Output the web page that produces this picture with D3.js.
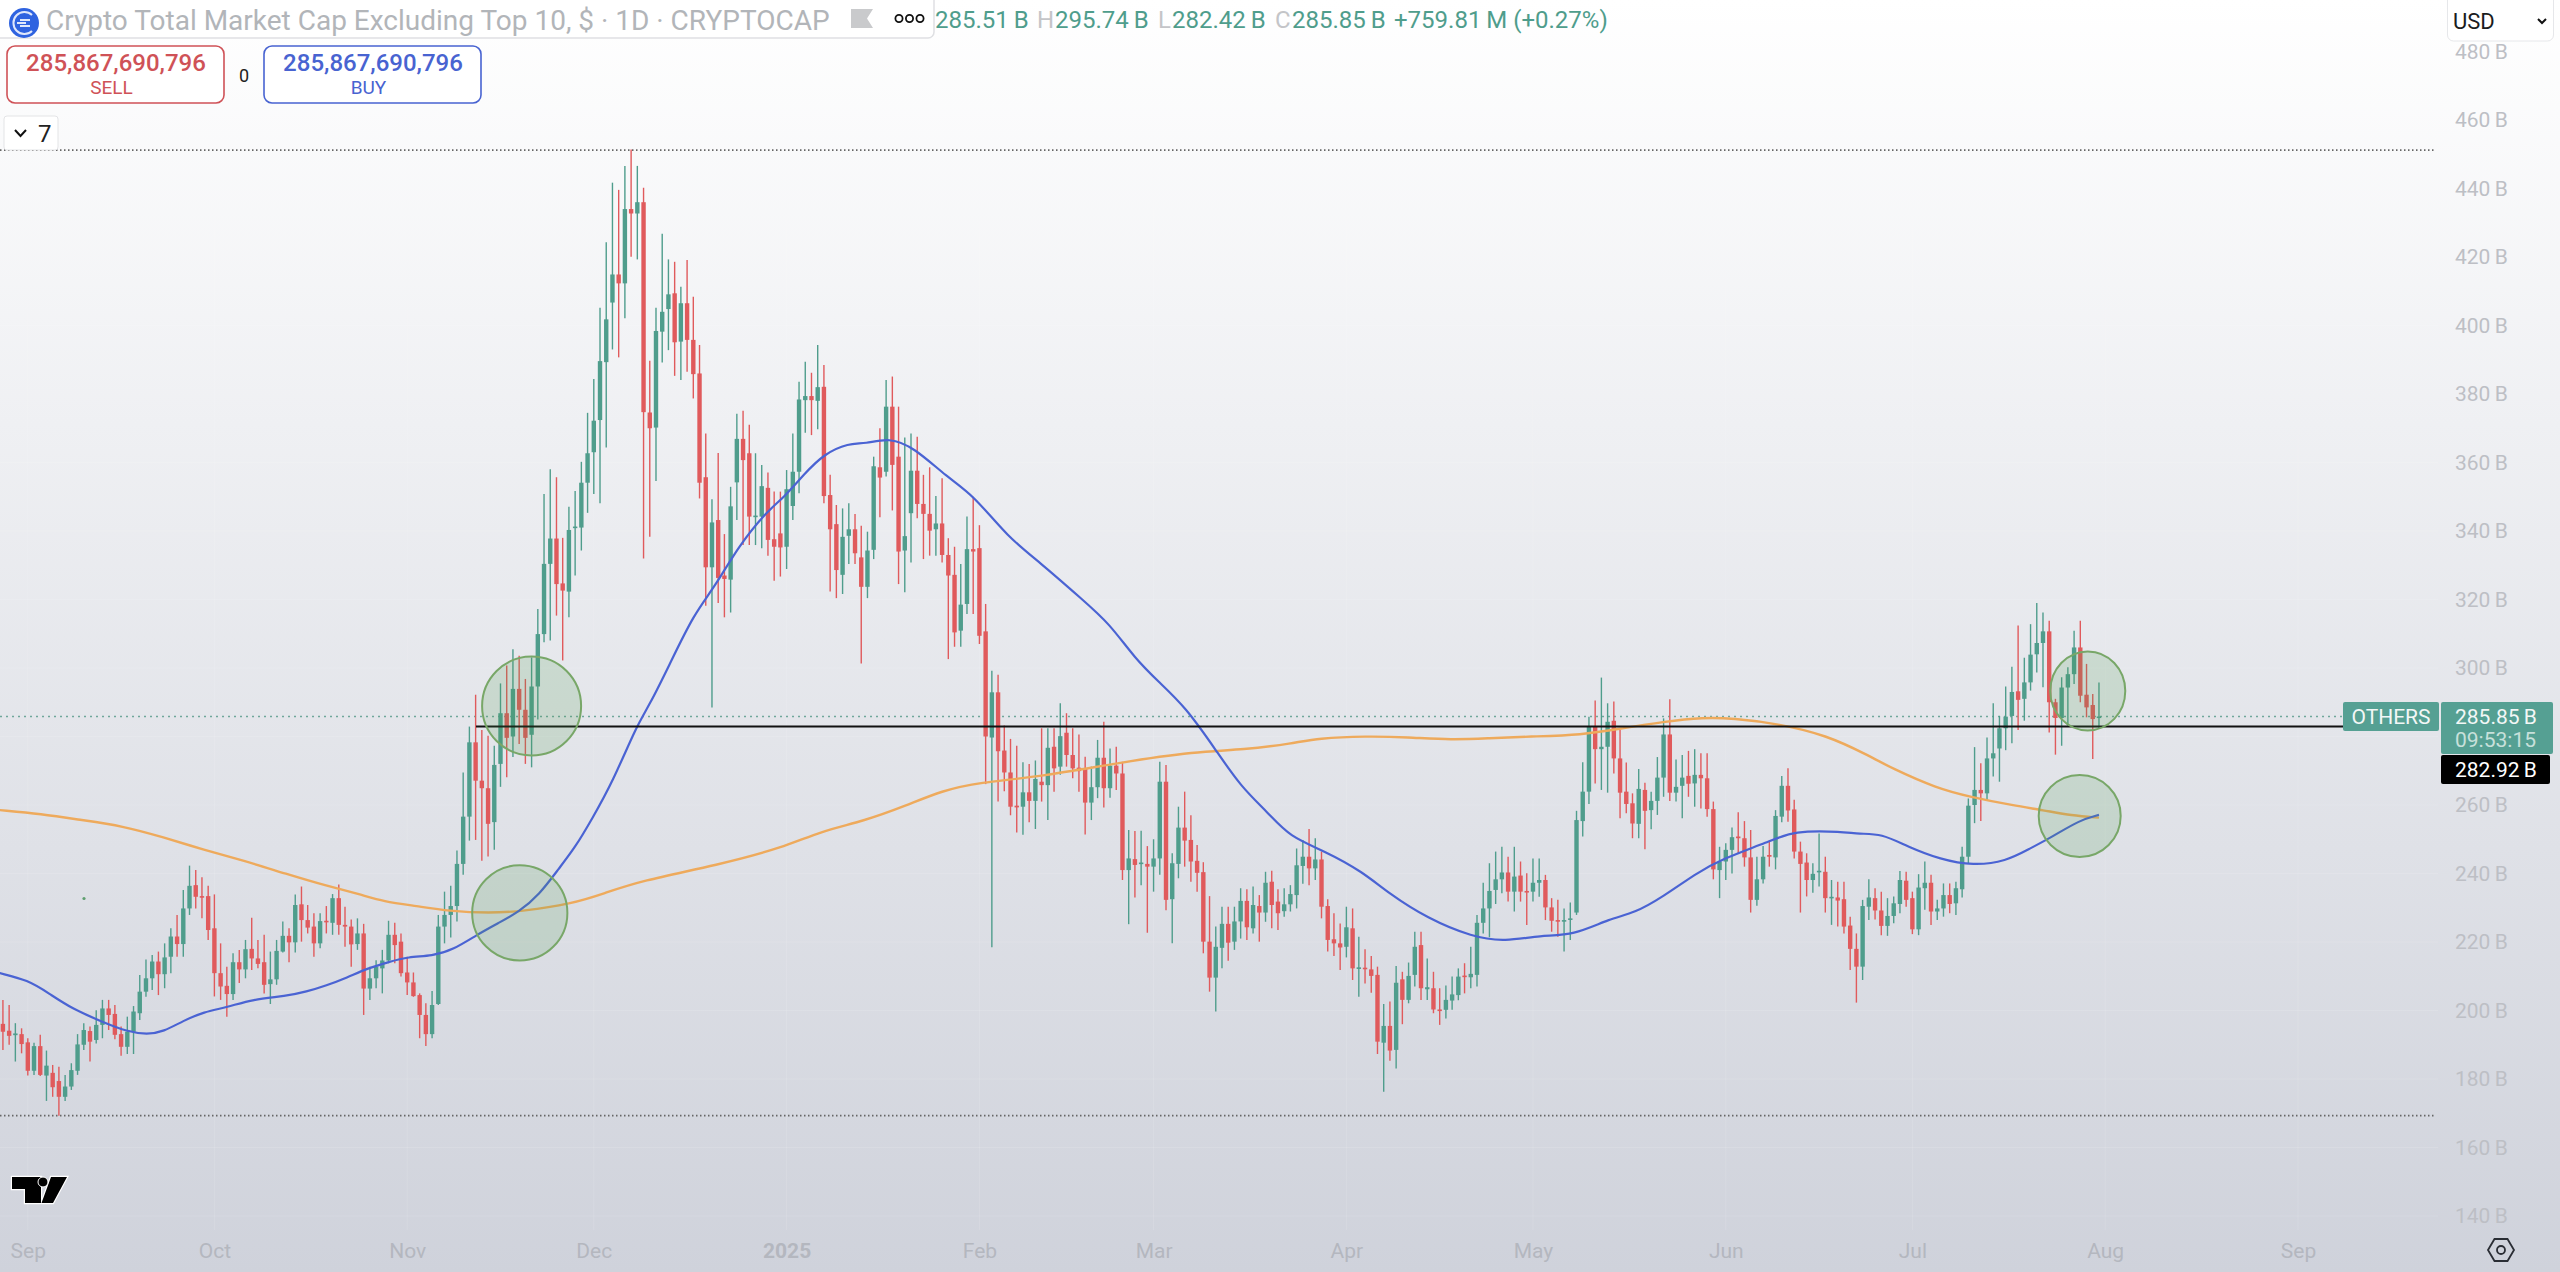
<!DOCTYPE html>
<html>
<head>
<meta charset="utf-8">
<script src="https://cdn.jsdelivr.net/npm/d3@7"></script>
<style>
html, body { margin: 0; padding: 0; background: #fff; }
svg { display: block; font-family: Roboto, "Noto Sans", sans-serif; }
</style>
</head>
<body>
<svg id="chart" width="2560" height="1272"></svg>
<script>
// daily candles, first one is 28 Aug 2024, values in billions
var firstCandle = "2024-08-28";
var opens = [
  196.1,194.1,192.8,193.1,190.7,182.4,189.6,181,181.8,179.4,
  174.8,177.8,182.4,190,194,191.4,195.8,200.6,199,193.1,
  189.4,193.8,199.2,205.5,209.4,214.3,210.6,215.7,221.6,219.4,
  229.8,236.6,233.4,233.4,224,210.9,207.2,204.8,214.1,212,
  218,215.2,214.1,207.7,209.1,217.2,221.8,219.9,231,226.4,
  224.5,219.6,226.2,225.6,232.8,225,224.5,219.4,222.5,206.4,
  209.4,212.3,214.6,222.1,220.1,211.1,208.2,204.5,198.7,193.1,
  201.9,224.5,227.9,230.5,242.8,256.6,278.3,267.1,264.9,255,
  272,286.8,280,293.9,287.8,280.5,294.6,309.9,330.4,337.8,
  324.7,322.3,340.9,341,354.1,363,372.4,389.3,406.7,414.9,
  412.3,434,432.7,436,374.6,370.2,398.2,404.8,409.4,395.3,
  406.5,395.8,386,355.7,329.4,343.2,327,325.8,354.2,366.9,
  362.7,344.2,344.2,352.6,337.6,339.3,335.4,347.3,357.3,378.2,
  379.4,378,382.1,350.5,342,327.2,338.6,340.5,332.3,323.7,
  334.5,358.6,357.3,376.3,361.7,334.3,345.2,357.6,347.9,345,
  340.5,342.2,333,327.2,310.9,318.7,334.7,335,310.7,279.7,
  292.9,275.9,269.5,259.8,259.5,263.7,261.2,266.8,265.8,277,
  271.2,281.1,274.6,270.9,270.7,260.7,265.2,273.8,264.9,271.5,
  269.2,241,244.2,242.8,242.8,242,244.4,266.8,232.5,242.8,
  253.4,249.8,243.7,240.4,220.1,209.6,218.3,225.3,220.1,226,
  232,224,230.5,228.6,237.6,231.8,229,231,233.7,242.2,
  244.9,241.5,244.1,230.5,220.8,219.6,218.6,224,212.2,212.5,
  212,210.4,190.6,195.5,188.5,209.1,203.1,210.4,219.1,206.2,
  206.5,200.3,200.2,202.9,204.5,210.2,209.7,210.4,225.6,229.8,
  235.2,238.3,240.3,234.7,239.4,234.9,234.7,237.3,238.1,230.1,
  226.4,226.1,226.6,228.6,255.3,263.9,283,276.3,277,284.6,
  273.6,263.9,260.5,254.5,264.4,258.5,261.2,268,280.6,263.6,
  265.6,268.5,266.3,268.8,267.8,258.8,241,243.5,246.9,250.8,
  250.3,244.7,232.3,238.3,245.4,244.7,256.6,265.6,258.7,246.4,
  243.2,238.1,240.5,240.5,232.9,233,232.5,224.8,218,212.8,
  230.3,232.8,229.2,224.7,227.6,231.1,237.9,232.8,223.7,235.7,
  237.3,228.9,229.8,233.7,231.3,235.4,244.9,260,264.4,263.4,
  273.6,276.5,282.4,286,293.2,291,295.8,304,307.3,310.7,
  290,285.4,294.3,298.2,306,292.2,289.2,285.51
];
var closes = [
  193.8,192.6,193.3,190.2,182.4,189.6,181.2,183.9,177.6,174.8,
  177.8,182.6,190.1,194.3,190.9,195.8,200.6,198.7,192.9,189.4,
  193.8,199.7,205.5,209.4,214.3,210.6,215.5,221.6,219.4,229.8,
  236.4,233.2,233.1,223.5,210.9,207,204.8,214.1,212,217.9,
  215.2,213.6,207.5,209.1,217.4,221.8,219.9,230.8,226.4,224.2,
  219.6,226.1,225.9,232.8,225,224.5,219.3,222.5,206.4,209.4,
  212.8,214.6,222.1,219.1,210.9,208.2,204.2,198.7,193.1,201.6,
  224.5,227.9,230.5,242.8,256.6,278.3,267.1,264.9,254.5,271.7,
  286.8,279.6,293.9,287.8,279.6,294.6,309.9,330.4,337.8,324.5,
  322.6,340.3,341.3,354.1,362.7,372.2,389.6,401.8,414.9,412.3,
  434,432.7,436,374.7,370,398.4,404,409.1,395.1,406.5,
  395.8,385.8,354.1,329.4,342.5,326.3,326,347.2,366.9,360.7,
  344.2,344.5,353.1,337.4,335.4,335.2,352.2,357.3,378.4,379.4,
  378.2,382,350.2,340.5,328.6,338.3,340.5,333.5,323.7,334.3,
  358.9,355.6,376.3,359.3,334,338.5,357.6,347.9,345,340.1,
  342.2,333,327,310.4,318.5,334.7,334,309.4,280,292.9,
  275.7,269.5,259.5,259.3,263.7,261.2,267.6,265.8,276.7,270.7,
  280.1,274.6,270.7,269.9,260.7,265.2,273.8,264.9,271.5,269.2,
  241,244.4,242.5,243.2,242,244.4,266.8,232.3,243,253.4,
  249.6,243.5,240.2,220.1,209.6,218.6,225.3,219.8,226,232,
  224.3,230.8,228.6,237.3,230.8,228.4,231,234,242.4,244.9,
  241.5,244.1,230.3,220.6,219.6,218.4,224.3,212.3,212.6,212.2,
  210.1,190.9,195.5,188.3,208.1,203.1,210.1,218.6,206.5,206.8,
  200.3,200,203.1,204.7,209.9,209.8,210.7,225.6,229.8,234.9,
  238.3,240.3,234.7,239.1,234.7,234.5,237.3,238.1,230.1,226.2,
  226.1,226.4,226.9,255.6,263.9,283,276.3,277,284.3,273.6,
  263.6,260.3,254.6,264.7,258.3,261.2,268,280.6,263.6,265.3,
  268,266.2,268.8,267.8,258.8,241.2,243.5,246.9,250.6,250.3,
  244.7,232.3,238.3,244.9,244.9,256.8,265.6,258.4,246.4,242.8,
  238.1,239.9,240.8,232.8,233.2,232.1,224.5,218,212.8,230.5,
  233,229.2,224.7,227.6,231.3,238.1,232.3,223.7,235.9,237.3,
  228.9,229.8,233.7,231.1,235.7,244.9,259.8,264.4,263.4,273.6,
  275.1,282.4,285.8,293,290.7,295.8,303.9,307.3,310.7,290,
  285.4,294.3,298.2,306,291.9,288.5,285.09,285.85
];
var highs = [
  203.1,201.6,196.3,194.8,191.9,190.6,192.9,188.3,184.1,183.6,
  181.2,184.6,193.1,196.3,195.3,200.1,203.1,203.1,201.6,195.3,
  198.2,201.3,210.4,214.9,216.2,217.2,219.6,224,227.9,235.2,
  242.3,241,238.9,236.4,233.9,219.6,212.8,216.7,217.7,220.6,
  227.1,220.6,222.1,217.2,220.6,226,224,233.9,236.2,230.8,
  228.4,228.4,230.5,234,236.8,230.3,226.6,226.9,225.3,212.8,
  214.7,217.7,226.2,225.6,222.5,215.7,211.1,205,202.1,205.7,
  227.9,234.7,236.4,246.7,269.5,282.9,292.2,281.9,280.2,277.3,
  295.5,300.7,305.5,303.6,296.8,303.1,317.2,350.8,358,355.7,
  338,347.1,351.7,360.2,374.5,384.4,405.2,424.3,441.7,439.6,
  446.6,451.4,446.6,440.2,389.7,405.2,426.8,419.3,418.6,411.3,
  419.1,408.4,394.3,368.5,349.3,362.8,339.1,352.9,374.2,375.1,
  371,362.7,359.3,357.1,351.5,351.5,357.8,368.5,383.6,389.4,
  386.2,394.3,388.5,356.4,347.6,346.6,348.1,345,341.5,339.8,
  361.7,370,384.1,385.1,376.3,367.3,368.5,367.5,356.4,358.6,
  350.2,355.4,337.9,335.4,330.4,344.2,350,341.7,318.7,299.2,
  298,283.2,279.3,277.3,272.5,272,273,282.4,282.4,282.4,
  289.7,286.8,282.4,280.6,274.1,271.2,279,284.3,276.5,277,
  272.6,252.7,252.4,252.5,248,250,272.6,271.7,245.9,259.5,
  263.9,257,248.3,243.3,233.4,224.5,230.3,230.3,230.3,235.7,
  235.4,236.2,233.7,240.5,240.8,235.4,235.7,236.6,247.3,249.8,
  253,250.3,246.4,232.5,228.4,225.4,230.3,229.8,221.5,217.9,
  215.9,212.8,201.9,202.6,213,211.3,214,223,223,215.2,
  211.3,206.5,207.3,209.9,212.3,213.8,218.6,227.9,237.3,243,
  246.4,247.8,244.9,247.8,243.5,240.1,244.4,244.4,239.6,232.8,
  232.3,229.8,231.5,258.3,272.5,285.8,290.5,297.2,289.7,290.2,
  281.9,272.4,263.4,270.5,266.5,263.9,274,285.3,290.9,273.3,
  274.6,275.8,276.3,275.1,275.1,261,247.8,248.8,253.4,257.9,
  255.3,252.7,244.9,248,249.3,258.5,268.5,270.7,261.5,249.3,
  245.9,243,251.7,244.9,238.1,237.6,237.6,227.4,222.5,232.3,
  238.3,235.7,234.7,232.8,233.3,240.7,240.5,234.7,239.8,243.5,
  239.6,232.3,237.1,237.1,237.6,247.8,261.9,276.9,272.2,279.7,
  289.7,286,294.6,300.4,312.4,303,312.8,319,316.2,313.8,
  291,297.3,300.2,310.9,313.8,301.2,292.4,295.74
];
var lows = [
  188.5,190,185.1,187.5,181,181.2,180.9,173.6,174.8,169.3,
  173.6,176.8,181.2,188.5,185.1,190.4,191.9,194.3,191.6,186.8,
  187.3,187.3,197.2,204,206,204.5,206.5,210.9,215.7,215.7,
  227.9,229.8,226.9,220.6,204.1,203.1,198.2,203.1,208,209.4,
  211.8,212.3,205,201.9,207.5,216.9,214.1,216.9,220.1,222.5,
  215.7,218.2,222.5,222.1,222.1,218.6,212.8,217.7,198.7,203.1,
  206.5,205,213.8,213.8,209.9,204.5,204,191.9,189.6,191.9,
  201.6,219.6,221.3,226,239.6,249.6,249.8,243.7,245,246.9,
  265.3,268.1,274,277.8,272,271,285,307.5,308,315.3,
  302.2,314.8,327,334.3,345.3,350.8,348.1,364.4,393,390.7,
  402.1,420.1,419.3,332,338.3,354.6,389.2,392.8,385.3,384.1,
  386.5,378.7,349.5,318.2,288.5,319,314.8,316.2,343.2,335.9,
  335.9,335.9,335,332.8,325.5,326.7,328.9,343.2,351,368.7,
  368,369.7,348.1,322.3,320.4,321.6,330.4,330.4,301.3,320.4,
  331.8,344,355.9,346,324.5,322.1,330.8,343.7,331.8,332.8,
  332.8,330.8,302.6,306.2,306.2,315.8,315.8,307,266.1,218.5,
  261,264,257,252,251.3,255,253,261,255.6,263.9,
  268.8,271.2,267.8,263.9,251.4,255.6,262,259.3,262.1,264.4,
  238.1,225.2,233,236.6,222.7,234.7,239.6,229.3,219.6,238.6,
  242,237.6,234.7,216.7,205.5,199.7,212.3,214.5,217.7,221,
  220.6,222.5,220.1,225.9,224,223.5,227.4,228.9,229.8,237,
  236.6,238.1,226.9,217.2,215.9,211.8,215.5,208.9,204,207.9,
  205.2,187.3,176.3,185.3,183.1,196,202.1,207,203.1,203.1,
  199.2,195.8,197.7,200.2,203,205,206.5,207,222.5,221.4,
  231.1,234.2,231.8,228.9,231.8,225,231.8,233.2,226.4,223,
  221.5,217.2,220.6,227.9,250.8,260.3,266.3,264.4,263.6,269.2,
  256.1,257.6,250.3,250.3,247.1,252.9,257.1,262.4,261.2,261,
  256.1,262.4,259.5,259,256.6,238.3,232.8,238.1,240,245.9,
  242,228.6,230.6,237.1,242,241.2,255,255.1,244.4,228.6,
  233.3,234.4,236.2,228.6,225,224.5,222.5,211.8,202.3,208.9,
  226.4,226.6,222,221.8,225.5,228.4,230.3,222.3,222,229.4,
  225,226.4,227.4,228.4,227.9,233,242.8,254.7,255.3,261.5,
  268.3,266.8,276,278,281.9,284.6,293.4,298.7,294.4,281.2,
  274.7,277.3,282.9,295.3,290,285.6,273.4,282.42
];

// moving averages, read every few days (days counted from 1 Sep 2024)
var blueDays = [-4.5,0,3.4,7.3,12,16,19.2,21.8,25,28.3,32,36.2,41.5,44.8,48,51.3,54.6,57.9,61.2,65,68.4,72.3,75.6,78.9,82.2,85.4,88,90.7,94,97.9,99.9,103.1,107.1,110.4,114.3,118.9,121.5,124.8,128,132,134.6,138.5,142.5,147.8,152,157.6,162.7,169.6,173.9,178,181.8,186.1,191,195,199.5,202.8,208.7,214.6,218.8,225,232.3,237.5,243.2,248.5,254.4,258.3,262.9,268.2,272.1,280,283.9,291.8,294.4,298,302.3,307.5,312.8,318,322,325.3,329.9,333];
var blueValues = [210.9,208.9,205,200.3,196.7,193.8,193,193.8,197,199.6,200.9,203.3,204.2,205.5,207.3,209.6,212.3,214.1,215.7,215.9,217.7,222.2,225.5,228.7,233.7,241.5,247.6,255.9,266.6,283.2,289,300.7,315.8,323.5,335.7,345.9,349.6,356.6,362.5,365.7,365.4,367.3,364.4,355.7,350.6,338.1,330.9,319.9,313,302.8,296,288.7,276.1,265.4,257.6,250.8,246.4,240.5,234.2,226.9,221.4,220.1,222,221.9,226.9,228.4,233.2,240,244,249.3,252.5,252.2,251.5,251.7,247.8,244.1,242.3,243.5,247.4,250.5,255.6,257.1];
var orangeDays = [-4.5,2.1,8.7,15.2,21.8,28.3,34.9,41.5,48,53.3,57.2,62.5,67.7,74.3,79.5,87.4,92.7,98.4,111,121.5,127.4,134.6,141.2,147,152.9,162.7,175.9,187.7,195.5,203.4,207.4,215.2,221.8,229,234.9,241.5,249.8,256.4,262.9,269.5,274.1,281.3,289.2,295.8,299.7,306.9,312.2,319.4,324,328.6,333];
var orangeValues = [258.5,257.4,255.6,253.9,250.6,246.9,243.7,239.9,236.4,234,231.8,230.5,229,228.4,229,231.1,234.2,237.8,242.5,247.6,252.3,255.4,259.8,264.2,266.6,268.2,272.5,275.6,276.1,278,279.5,280.1,279.8,279,279.5,280,280.4,282.4,284.3,285.6,285.3,283.8,280.4,274.6,270.7,264.9,262.4,259.8,258.5,256.9,256.3];

var priceTicks = [140,160,180,200,220,240,260,300,320,340,360,380,400,420,440,460,480];
var gridPrices = [140,160,180,200,220,240,260,280,300,320,340,360,380,400,420,440,460];
var monthTicks = ["2024-09-01","2024-10-01","2024-11-01","2024-12-01","2025-01-01","2025-02-01","2025-03-01","2025-04-01","2025-05-01","2025-06-01","2025-07-01","2025-08-01","2025-09-01"];
var monthLabels = ["Sep","Oct","Nov","Dec","2025","Feb","Mar","Apr","May","Jun","Jul","Aug","Sep"];

var topLevel = 451.2;
var bottomLevel = 169.3;
var lastPrice = 285.85;
var markedPrice = 282.92;

// the four hand drawn circles
var circleDays = [81, 79.1, 331.2, 329.9];
var circlePrices = [288.9, 228.5, 293.3, 256.8];

var green = "#4f9d8c", red = "#e05a5c";
var parseDay = d3.utcParse("%Y-%m-%d");
var start = parseDay("2024-09-01");
var dayAt = function (n) { return new Date(start.getTime() + n * 864e5); };

var svg = d3.select("#chart");
var x = d3.scaleUtc().domain([parseDay("2024-09-01"), parseDay("2025-09-01")]).range([27.8, 2298]);
var y = d3.scaleLinear().domain([140, 460]).range([1216, 120]);

// background
var grad = svg.append("defs").append("linearGradient").attr("id", "bg").attr("x1", 0).attr("y1", 0).attr("x2", 0).attr("y2", 1);
grad.append("stop").attr("offset", 0).attr("stop-color", "#ffffff");
grad.append("stop").attr("offset", 1).attr("stop-color", "#cfd2db");
svg.append("rect").attr("width", 2560).attr("height", 1272).attr("fill", "url(#bg)");

// very faint grid
svg.append("g").selectAll("line").data(gridPrices).enter().append("line")
    .attr("x1", 0).attr("x2", 2438).attr("y1", function (d) { return y(d); }).attr("y2", function (d) { return y(d); })
    .attr("stroke", "#fff").attr("stroke-opacity", 0.12);
svg.append("g").selectAll("line").data(monthTicks).enter().append("line")
    .attr("y1", 0).attr("y2", 1230).attr("x1", function (d) { return x(parseDay(d)); }).attr("x2", function (d) { return x(parseDay(d)); })
    .attr("stroke", "#fff").attr("stroke-opacity", 0.12);

// extreme levels
svg.append("g").selectAll("line").data([topLevel, bottomLevel]).enter().append("line")
    .attr("x1", 0).attr("x2", 2436).attr("y1", function (d) { return y(d); }).attr("y2", function (d) { return y(d); })
    .attr("stroke", "#666").attr("stroke-width", 1.6).attr("stroke-dasharray", "1.5 2.5");
svg.append("line").attr("x1", 0).attr("x2", 2343).attr("y1", y(lastPrice)).attr("y2", y(lastPrice))
    .attr("stroke", "#6fa79b").attr("stroke-width", 1.6).attr("stroke-dasharray", "2 4");

// candles
var candles = opens.map(function (o, i) {
    return { date: dayAt(i - 4), o: o, c: closes[i], h: highs[i], l: lows[i] };
});
var colorOf = function (d) { return d.c >= d.o ? green : red; };
var cg = svg.append("g");
cg.selectAll("line").data(candles).enter().append("line")
    .attr("x1", function (d) { return x(d.date); }).attr("x2", function (d) { return x(d.date); })
    .attr("y1", function (d) { return y(d.h); }).attr("y2", function (d) { return y(d.l); })
    .attr("stroke", colorOf).attr("stroke-width", 1.4);
cg.selectAll("rect").data(candles).enter().append("rect")
    .attr("x", function (d) { return x(d.date) - 2.2; }).attr("width", 4.4)
    .attr("y", function (d) { return y(Math.max(d.o, d.c)); })
    .attr("height", function (d) { return Math.max(1.6, Math.abs(y(d.o) - y(d.c))); })
    .attr("fill", colorOf);

// averages
var line = d3.line().x(function (d) { return x(dayAt(d[0])); }).y(function (d) { return y(d[1]); }).curve(d3.curveBasis);
svg.append("path").attr("d", line(orangeDays.map(function (d, i) { return [d, orangeValues[i]]; })))
    .attr("fill", "none").attr("stroke", "#eeaa5c").attr("stroke-width", 2.4);
svg.append("path").attr("d", line(blueDays.map(function (d, i) { return [d, blueValues[i]]; })))
    .attr("fill", "none").attr("stroke", "#4a63d3").attr("stroke-width", 2.2);

// black level
svg.append("line").attr("x1", 476).attr("x2", 2343).attr("y1", y(markedPrice)).attr("y2", y(markedPrice))
    .attr("stroke", "#111").attr("stroke-width", 2);

var radiiX = [49.5, 47.6, 37.5, 41];
var radiiY = [49.5, 47.6, 39.5, 41];
svg.append("g").selectAll("ellipse").data(circleDays).enter().append("ellipse")
    .attr("cx", function (d) { return x(dayAt(d)); })
    .attr("cy", function (d, i) { return y(circlePrices[i]); })
    .attr("rx", function (d, i) { return radiiX[i]; })
    .attr("ry", function (d, i) { return radiiY[i]; })
    .attr("fill", "#4f9a4f").attr("fill-opacity", 0.18)
    .attr("stroke", "#78a768").attr("stroke-width", 2);
svg.append("circle").attr("cx", 84).attr("cy", 898.5).attr("r", 1.6).attr("fill", "#5f9f70");

// axes
var yAxis = d3.axisRight(y).tickValues(priceTicks).tickSize(0).tickPadding(0)
    .tickFormat(function (d) { return d + "\u2009B"; });
var yg = svg.append("g").attr("transform", "translate(2455,0)").call(yAxis);
yg.select(".domain").remove();
yg.selectAll("text").attr("font-family", "Roboto").attr("font-size", 21).attr("fill", "#bdbfc5");

var xAxis = d3.axisBottom(x).tickValues(monthTicks.map(parseDay)).tickSize(0).tickPadding(0)
    .tickFormat(function (d, i) { return monthLabels[i]; });
var xg = svg.append("g").attr("transform", "translate(0,1243)").call(xAxis);
xg.select(".domain").remove();
xg.selectAll("text").attr("font-family", "Roboto").attr("font-size", 21).attr("fill", "#b4b7bf")
    .attr("font-weight", function (d, i) { return monthLabels[i] === "2025" ? 700 : 400; });

// price tags
svg.append("rect").attr("x", 2343).attr("y", 702).attr("width", 96).attr("height", 29).attr("rx", 2).attr("fill", "#55a093");
svg.append("text").attr("x", 2391).attr("y", 724).attr("text-anchor", "middle").attr("font-size", 21).attr("fill", "#f2f7f6").text("OTHERS");
svg.append("rect").attr("x", 2441).attr("y", 702).attr("width", 112).attr("height", 52).attr("rx", 2).attr("fill", "#55a093");
svg.append("text").attr("x", 2455).attr("y", 724).attr("font-size", 21).attr("fill", "#f2f7f6").text(lastPrice + "\u2009B");
svg.append("text").attr("x", 2455).attr("y", 747).attr("font-size", 21).attr("fill", "#c8e0db").text("09:53:15");
svg.append("rect").attr("x", 2441).attr("y", 755).attr("width", 109).attr("height", 29).attr("rx", 2).attr("fill", "#000");
svg.append("text").attr("x", 2455).attr("y", 777).attr("font-size", 21).attr("fill", "#fff").text(markedPrice + "\u2009B");

// settings icon
svg.append("path").attr("d", "M2488,1250 L2494.5,1239 L2507.5,1239 L2514,1250 L2507.5,1261 L2494.5,1261 Z")
    .attr("fill", "none").attr("stroke", "#2a2d34").attr("stroke-width", 1.8);
svg.append("circle").attr("cx", 2501).attr("cy", 1250).attr("r", 4).attr("fill", "none").attr("stroke", "#2a2d34").attr("stroke-width", 1.8);

// tradingview mark
svg.append("path").attr("d", "M12,1177 L41,1177 L41,1203 L25,1203 L25,1189 L12,1189 Z M41.5,1203 L53,1203 L67,1177 L51,1177 Z")
    .attr("fill", "#000").attr("stroke", "#fff").attr("stroke-width", 2.4).attr("paint-order", "stroke");
svg.append("circle").attr("cx", 43).attr("cy", 1182).attr("r", 5).attr("fill", "#000").attr("stroke", "#fff").attr("stroke-width", 1);

// header pill
svg.append("rect").attr("x", -6).attr("y", -8).attr("width", 940).attr("height", 46).attr("rx", 6)
    .attr("fill", "#fff").attr("stroke", "#dfe0e3").attr("stroke-width", 1.5);
svg.append("circle").attr("cx", 24).attr("cy", 23).attr("r", 15).attr("fill", "#2f63e0");
svg.append("path").attr("d", "M32,15 A11,11 0 1 0 32,31 M30,20 L20,20 M30,26 L20,26 M17,23 L26,23")
    .attr("fill", "none").attr("stroke", "#dfe7fb").attr("stroke-width", 2);
svg.append("text").attr("x", 46).attr("y", 30).attr("font-size", 28).attr("fill", "#b2b5b9")
    .text("Crypto Total Market Cap Excluding Top 10, $ \u00b7 1D \u00b7 CRYPTOCAP");
svg.append("path").attr("d", "M851,9 L873,9 L867,18.5 L873,28 L851,28 Z").attr("fill", "#c9cacc");
svg.append("g").selectAll("circle").data([0, 1, 2]).enter().append("circle")
    .attr("cx", function (d) { return 899 + d * 10.5; }).attr("cy", 18.5).attr("r", 3.6)
    .attr("fill", "#fff").attr("stroke", "#111").attr("stroke-width", 1.8);

// ohlc line
var ohlcText = [["285.51\u2009B", green, 935], ["H", "#c4c5c8", 1037], ["295.74\u2009B", green, 1055], ["L", "#c4c5c8", 1158], ["282.42\u2009B", green, 1172], ["C", "#c4c5c8", 1275], ["285.85\u2009B", green, 1292], ["+759.81\u2009M (+0.27%)", green, 1394]];
svg.append("g").selectAll("text").data(ohlcText).enter().append("text")
    .attr("x", function (d) { return d[2]; }).attr("y", 28).attr("font-size", 24)
    .attr("fill", function (d) { return d[1]; }).text(function (d) { return d[0]; });

// usd box
svg.append("rect").attr("x", 2447.5).attr("y", -6).attr("width", 106).attr("height", 47).attr("rx", 6)
    .attr("fill", "#fff").attr("stroke", "#e6e7ea");
svg.append("text").attr("x", 2453).attr("y", 29).attr("font-size", 22).attr("fill", "#1a1c20").text("USD");
svg.append("path").attr("d", "M2538,19 L2542,23 L2546,19").attr("fill", "none").attr("stroke", "#111").attr("stroke-width", 2);

// sell / buy
var boxes = [["285,867,690,796", "SELL", 7, "#cf5257"], ["285,867,690,796", "BUY", 264, "#4863d1"]];
boxes.forEach(function (b) {
    svg.append("rect").attr("x", b[2]).attr("y", 46).attr("width", 217).attr("height", 57).attr("rx", 8)
        .attr("fill", "#fff").attr("stroke", b[3]).attr("stroke-width", 1.6);
    svg.append("text").attr("x", b[2] + 109).attr("y", 71).attr("text-anchor", "middle").attr("font-size", 24)
        .attr("font-weight", 500).attr("fill", b[3]).text(b[0]);
    svg.append("text").attr("x", b[2] + 104.5).attr("y", 94).attr("text-anchor", "middle").attr("font-size", 19)
        .attr("fill", b[3]).text(b[1]);
});
svg.append("text").attr("x", 244).attr("y", 82).attr("text-anchor", "middle").attr("font-size", 18).attr("fill", "#222").text("0");

// collapsed indicators
svg.append("rect").attr("x", 4).attr("y", 116).attr("width", 54).attr("height", 34).attr("rx", 3)
    .attr("fill", "#fff").attr("stroke", "#e3e4e6");
svg.append("path").attr("d", "M15,130 L20.5,136 L26,130").attr("fill", "none").attr("stroke", "#111").attr("stroke-width", 2);
svg.append("text").attr("x", 38).attr("y", 142).attr("font-size", 24).attr("fill", "#222").text("7");
</script>
</body>
</html>
